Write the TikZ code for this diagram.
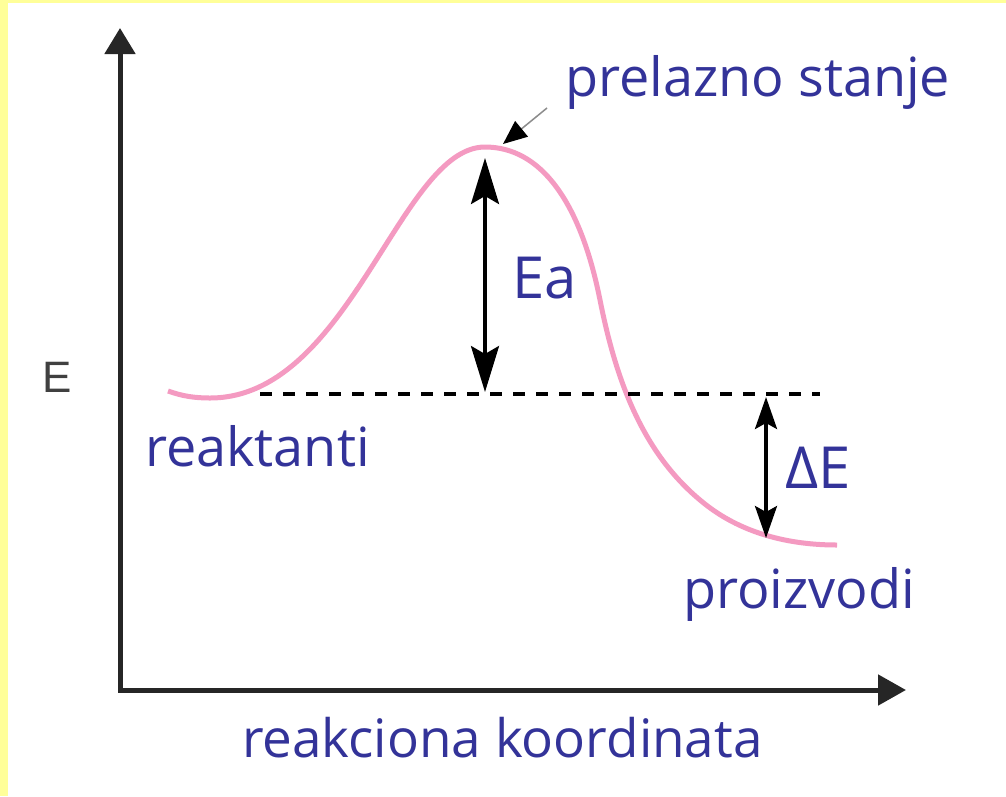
\documentclass[tikz,border=0pt]{standalone}
\usepackage{fontspec}
\setmainfont{Open Sans}
\newfontfamily\arialfont{Liberation Sans}
\usetikzlibrary{arrows.meta}
\definecolor{slideyellow}{HTML}{FFFF99}
\definecolor{txtblue}{HTML}{333399}
\definecolor{curvepink}{HTML}{F49AC1}
\begin{document}
\begin{tikzpicture}[x=1pt,y=-1pt,
  lbl/.style={text=txtblue, font=\fontsize{54}{60}\selectfont, inner sep=0pt, anchor=base west},
  biglbl/.style={lbl, font=\fontsize{58}{64}\selectfont},
  axisline/.style={line width=5pt, black!85, line join=miter,
    {Triangle[length=26pt,width=30pt]}-{Triangle[length=28pt,width=30pt]}},
  curveline/.style={line width=5pt, curvepink},
  dashline/.style={line width=3.5pt, black, dash pattern=on 12pt off 11pt},
  eaarrow/.style={line width=3.5pt, black, {Stealth[length=46pt,width=28pt,inset=8pt]}-{Stealth[length=46pt,width=28pt,inset=8pt]}},
  dearrow/.style={line width=3.5pt, black, {Stealth[length=32pt,width=22pt,inset=6pt]}-{Stealth[length=32pt,width=22pt,inset=6pt]}},
  pointer/.style={line width=1.5pt, black!45, -{Triangle[length=24pt,width=20pt,color=black]}}
]
\useasboundingbox (0,0) rectangle (1006,796);
\fill[slideyellow] (0,0) rectangle (1006,796);
\fill[white] (8,3) rectangle (1006,796);

% axes
\coordinate (O) at (120,690);
\coordinate (ytip) at (120,28);
\coordinate (xtip) at (906,690);
\draw[axisline] (ytip) -- (O) -- (xtip);

% energy curve
\coordinate (c0) at (168,391);
\coordinate (cmin) at (210,398);
\coordinate (peak) at (485,147);
\coordinate (c3) at (600,300);
\coordinate (c4) at (700,500);
\coordinate (c5) at (837,545);
\draw[curveline] (c0) .. controls (182,396) and (194,398) .. (cmin)
  .. controls (350,398) and (400,147) .. (peak)
  .. controls (540,147) and (580,200) .. (c3)
  .. controls (615,375) and (640,450) .. (c4)
  .. controls (740,534) and (790,545) .. (c5);

% dashed reference level
\coordinate (dL) at (260,394);
\coordinate (dR) at (820,394);
\draw[dashline] (dL) -- (dR);

% Ea arrow
\coordinate (eaB) at (485,392);
\coordinate (eaT) at (485,158);
\draw[eaarrow] (eaB) -- (eaT);

% Delta E arrow
\coordinate (deT) at (766,397);
\coordinate (deB) at (766,538);
\draw[dearrow] (deT) -- (deB);

% pointer to transition state
\coordinate (pS) at (547,108);
\coordinate (pE) at (503,144);
\draw[pointer] (pS) -- (pE);

% labels
\node[lbl] (ts) at (565,96) {prelazno stanje};
\node[biglbl] (ea) at (512,298) {Ea};
\node[lbl] (re) at (145,466) {reaktanti};
\node[biglbl] (de) at (785,488) {ΔE};
\node[lbl] (pr) at (683,608) {proizvodi};
\node[lbl, font=\fontsize{53}{60}\selectfont] (rk) at (242,757) {reakciona koordinata};
\node[font=\arialfont\fontsize{44}{48}\selectfont, text=black!75, inner sep=0pt, anchor=base west] (el) at (42,392) {E};
\end{tikzpicture}
\end{document}
